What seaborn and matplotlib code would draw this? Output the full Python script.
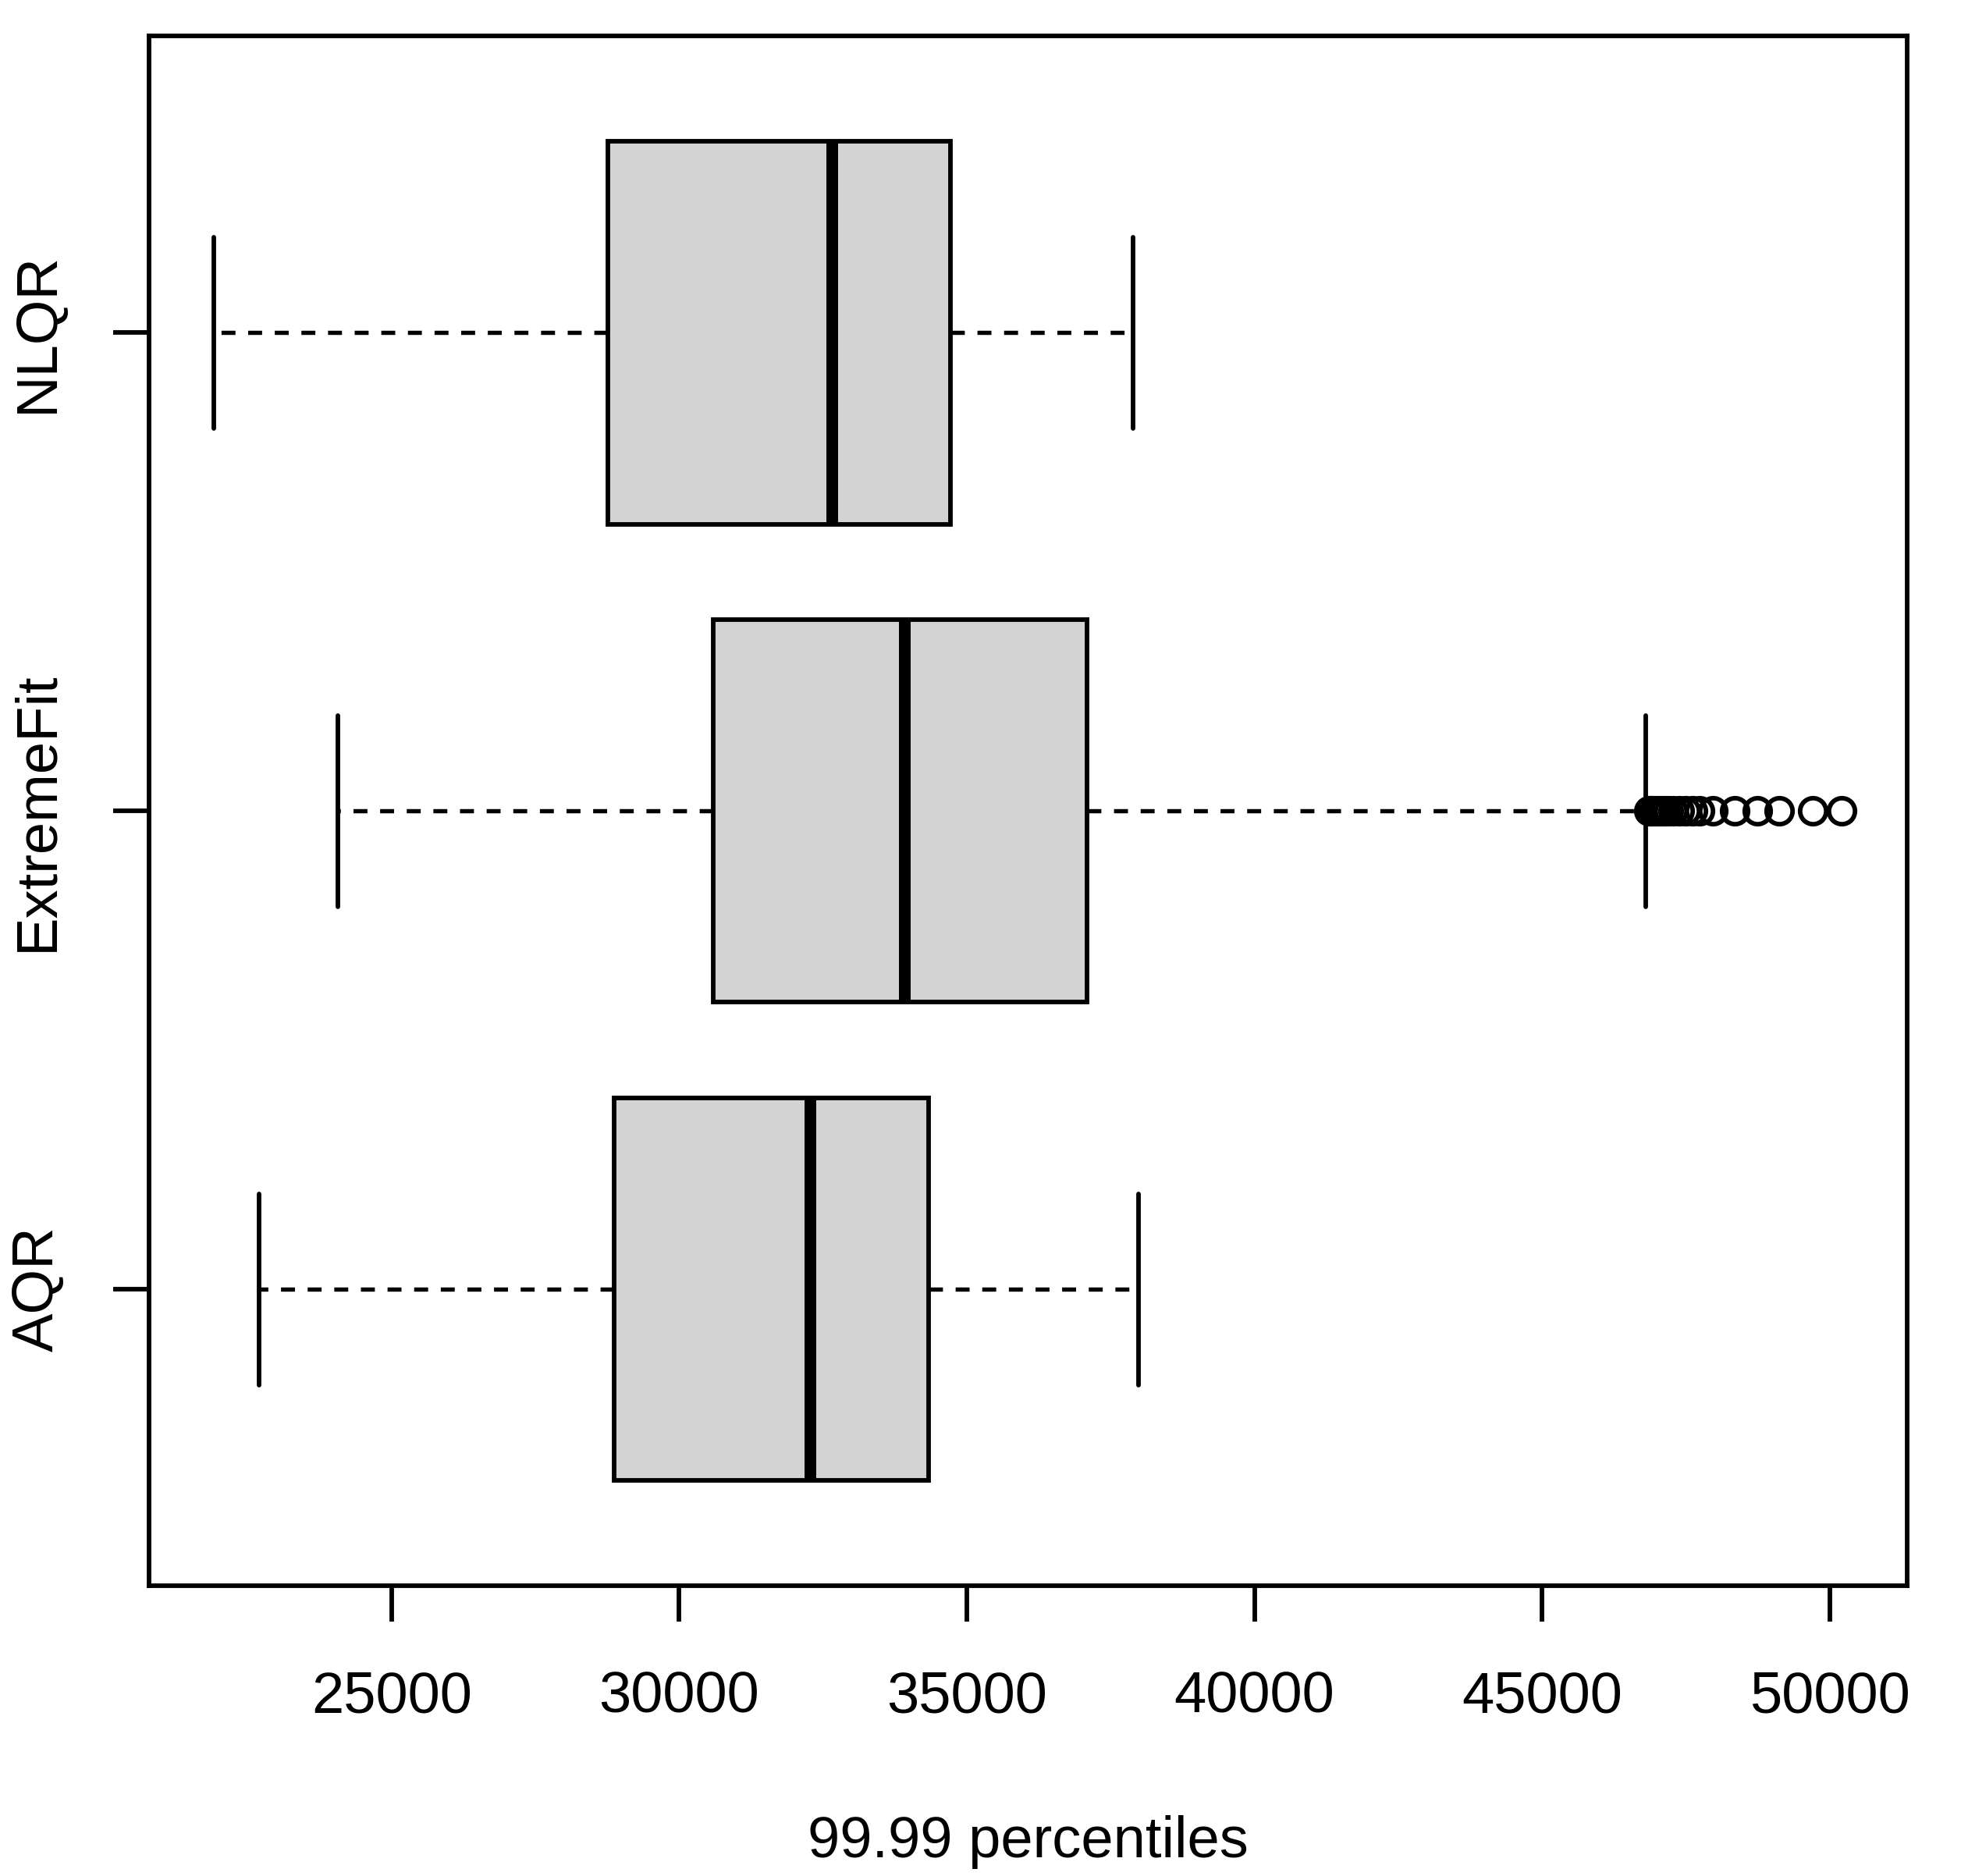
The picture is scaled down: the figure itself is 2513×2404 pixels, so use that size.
import pandas as pd
import seaborn as sns
import matplotlib.pyplot as plt

# box statistics (R style boxplot)
methods = ["NLQR", "ExtremeFit", "AQR"]
whisker_lo = [21910, 24070, 22700]
q1 = [28760, 30590, 28870]
median = [32650, 33910, 32280]
q3 = [34720, 37090, 34330]
whisker_hi = [37890, 46800, 37980]
outliers = [
    [],
    [46860, 46880, 46900, 46920, 46950, 46980, 47020, 47060, 47100, 47150,
     47200, 47280, 47380, 47500, 47620, 47740,
     47970, 48350, 48740, 49120, 49700, 50210],
    [],
]

# build a sample per method whose quartiles / whiskers give exactly these stats
rows = []
for m, lo, a, med, b, hi, out in zip(methods, whisker_lo, q1, median, q3, whisker_hi, outliers):
    k = len(out) + 1
    vals = [lo] + [a] * k + [med] * k + [b] * k + [hi] * (k - len(out)) + out
    rows += [(m, v) for v in vals]
df = pd.DataFrame(rows, columns=["method", "value"])

sns.set_style("ticks")
plt.rcParams['font.family'] = ['Liberation Sans', 'DejaVu Sans']
plt.rcParams['text.color'] = 'black'
plt.rcParams['axes.labelcolor'] = 'black'
plt.rcParams['xtick.color'] = 'black'
plt.rcParams['ytick.color'] = 'black'

fig = plt.figure(figsize=(2513 / 300, 2404 / 300), dpi=300)
ax = fig.add_axes([0.0759, 0.1547, 0.8967, 0.826])

lw = 1.4
sns.boxplot(data=df, x="value", y="method", order=methods, orient="h",
            width=0.8, whis=1.5, color="#D3D3D3", saturation=1,
            linecolor="black", linewidth=lw, fliersize=8,
            flierprops=dict(marker="o", markerfacecolor="none",
                            markeredgecolor="black", markeredgewidth=lw),
            whiskerprops=dict(linestyle=(0, (3.3, 3.0)), linewidth=1.3),
            medianprops=dict(linewidth=3.6, solid_capstyle="butt"),
            capprops=dict(linewidth=lw),
            capwidths=0.4, ax=ax)

ax.set_xlim(20780, 51350)
ax.set_ylim(2.62, -0.62)
ax.set_xticks([25000, 30000, 35000, 40000, 45000, 50000])
ax.set_xticklabels(["25000", "30000", "35000", "40000", "45000", "50000"])
for s in ax.spines.values():
    s.set_visible(True)
    s.set_linewidth(lw)
    s.set_color("black")

ax.tick_params(axis="both", length=11, width=lw, colors="black", labelsize=17.8, pad=15)
for lbl in ax.get_yticklabels():
    lbl.set_rotation(90)
    lbl.set_va("center")

ax.set_xlabel("99.99 percentiles", fontsize=17.8, labelpad=28, color="black")
ax.set_ylabel("")

plt.savefig("out.png", dpi=300)
